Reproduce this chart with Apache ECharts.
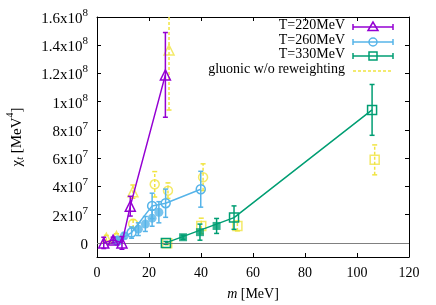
<!DOCTYPE html>
<html><head><meta charset="utf-8">
<script src="https://cdn.jsdelivr.net/npm/echarts@6/dist/echarts.min.js"></script>
<style>html,body{margin:0;padding:0;background:#fff}#c{width:436px;height:305px}</style>
</head><body><div id="c"></div>
<script>
// ---- data ----
const xTicks = [0, 20, 40, 60, 80, 100, 120];
const yTicks = [0, 2e7, 4e7, 6e7, 8e7, 1e8, 1.2e8, 1.4e8, 1.6e8];
const yTickLabels = ['0', '2x10^7', '4x10^7', '6x10^7', '8x10^7', '1x10^8', '1.2x10^8', '1.4x10^8', '1.6x10^8'];
const seriesNames = ['T=220MeV', 'T=260MeV', 'T=330MeV', 'gluonic w/o reweighting'];

// T=220MeV (open triangles, with line)
const m220 = [2.6, 6.2, 9.6, 12.8, 26.3];
const v220 = [0, 2.0e6, 0, 2.6e7, 1.19e8];
const e220 = [4e6, 2e6, 4.5e6, 7e6, 3e7];

// T=260MeV (open circles, with line)
const m260 = [7.8, 13.3, 21.2, 26.4, 39.9];
const v260 = [1.5e6, 7.3e6, 2.62e7, 2.81e7, 3.8e7];
const e260 = [2e6, 4e6, 9e6, 1.0e7, 1.27e7];
// T=260MeV additional filled circles
const m260f = [7.8, 10.5, 15.9, 18.6, 21.2, 23.8];
const v260f = [1.9e6, 5.0e6, 9.7e6, 1.34e7, 1.75e7, 2.17e7];
const e260f = [2e6, 2e6, 4.5e6, 5.3e6, 5.7e6, 7.5e6];

// T=330MeV (open squares, with line)
const m330 = [26.5, 52.7, 105.8];
const v330 = [0, 1.79e7, 9.42e7];
const e330 = [1e6, 8.3e6, 1.8e7];
// T=330MeV additional filled squares
const m330f = [33.1, 39.6, 46.0];
const v330f = [4.0e6, 7.6e6, 1.2e7];
const e330f = [1.5e6, 5.7e6, 5.3e6];

// gluonic w/o reweighting (yellow, dashed error bars)
const mGt = [3.6, 7.5, 13.8, 27.7];
const vGt = [3.3e6, 4.5e6, 3.63e7, 1.366e8];
const eGt = [2e6, 2e6, 4.7e6, 4.25e7];
const mGc = [13.9, 22.2, 27.3, 40.8];
const vGc = [1.35e7, 4.15e7, 3.7e7, 4.65e7];
const eGc = [3e6, 9e6, 5.5e6, 9.5e6];
const mGs = [27.0, 40.1, 54.0, 106.8];
const vGs = [-3e5, 1.2e7, 1.2e7, 5.88e7];
const eGs = [1e6, 5.5e6, 3.5e6, 1.06e7];

// ---- build ----
const C220 = '#9400d3', C260 = '#56b4e9', C330 = '#009e73', CG = '#f0e442';
const FONT = 'Liberation Serif';
const pts = (m, v) => m.map((x, i) => [x, v[i]]);
const errs = (m, v, e) => m.map((x, i) => [x, v[i] - e[i], v[i] + e[i]]);

function errRender(color, dashed) {
  return function (params, api) {
    const x = api.value(0), lo = api.value(1), hi = api.value(2);
    const p1 = api.coord([x, lo]), p2 = api.coord([x, hi]);
    const cw = 2.5;
    const style = { stroke: color, lineWidth: 1.5, lineDash: dashed ? [3, 2] : null, fill: null };
    return {
      type: 'group', children: [
        { type: 'line', shape: { x1: p1[0], y1: p1[1], x2: p2[0], y2: p2[1] }, style: style },
        { type: 'line', shape: { x1: p1[0] - cw, y1: p1[1], x2: p1[0] + cw, y2: p1[1] }, style: { stroke: color, lineWidth: 1.5 } },
        { type: 'line', shape: { x1: p2[0] - cw, y1: p2[1], x2: p2[0] + cw, y2: p2[1] }, style: { stroke: color, lineWidth: 1.5 } }
      ]
    };
  };
}
function errSeries(data, color, dashed, z) {
  return { type: 'custom', data: data, renderItem: errRender(color, dashed), clip: true, z: z, silent: true,
    encode: { x: 0, y: [1, 2] } };
}
function openScatter(data, symbol, size, color, z) {
  return { type: 'scatter', data: data, symbol: symbol, symbolSize: size, z: z, silent: true,
    itemStyle: { color: 'transparent', borderColor: color, borderWidth: 1.5 } };
}

const yLabelMap = {};
yTicks.forEach((t, i) => { yLabelMap[t] = yTickLabels[i]; });
function fmtY(v) {
  const s = yLabelMap[v];
  if (s === undefined) return '';
  const k = s.indexOf('^');
  if (k < 0) return '{b|' + s + '}';
  return '{b|' + s.slice(0, k) + '}{s|' + s.slice(k + 1) + '}';
}

// legend samples drawn as graphics
function legendSample(y, color, marker) {
  const x1 = 353, x2 = 393, xm = 373;
  const ch = [
    { type: 'line', shape: { x1: x1, y1: y, x2: x2, y2: y }, style: { stroke: color, lineWidth: 1.5 } },
    { type: 'line', shape: { x1: x1, y1: y - 3, x2: x1, y2: y + 3 }, style: { stroke: color, lineWidth: 1.5 } },
    { type: 'line', shape: { x1: x2, y1: y - 3, x2: x2, y2: y + 3 }, style: { stroke: color, lineWidth: 1.5 } }
  ];
  if (marker === 'tri') ch.push({ type: 'polygon', shape: { points: [[xm, y - 5], [xm - 5, y + 3.5], [xm + 5, y + 3.5]] }, style: { fill: 'none', stroke: color, lineWidth: 1.5 } });
  if (marker === 'circ') ch.push({ type: 'circle', shape: { cx: xm, cy: y, r: 4 }, style: { fill: 'none', stroke: color, lineWidth: 1.5 } });
  if (marker === 'sq') ch.push({ type: 'rect', shape: { x: xm - 4, y: y - 4, width: 8, height: 8 }, style: { fill: 'none', stroke: color, lineWidth: 1.5 } });
  return ch;
}
const legendRows = [27, 42, 56, 71];
const legendColors = [C220, C260, C330, CG];
const legendMarkers = ['tri', 'circ', 'sq', null];
const graphics = [];
seriesNames.forEach((n, i) => {
  graphics.push({ type: 'text', right: 436 - 345, top: legendRows[i] - 9, style: { text: n, font: '14px "Liberation Serif"', fill: '#000', textAlign: 'right' } });
  if (i < 3) graphics.push({ type: 'group', children: legendSample(legendRows[i], legendColors[i], legendMarkers[i]) });
  else graphics.push({ type: 'line', shape: { x1: 353, y1: legendRows[i], x2: 393, y2: legendRows[i] }, style: { stroke: CG, lineWidth: 1.5, lineDash: [3, 2] } });
});

const xAxisCommon = { type: 'value', min: 0, max: 120, interval: 20,
  axisLine: { show: true, onZero: false, lineStyle: { color: '#000', width: 1 } },
  axisTick: { show: true, inside: true, length: 4, lineStyle: { color: '#000' } },
  splitLine: { show: false } };
const yAxisCommon = { type: 'value', min: -1e7, max: 1.6e8,
  axisLine: { show: true, onZero: false, lineStyle: { color: '#000', width: 1 } },
  axisTick: { show: true, inside: true, length: 4, customValues: yTicks, lineStyle: { color: '#000' } },
  splitLine: { show: false } };

const option = {
  animation: false,
  backgroundColor: '#fff',
  grid: { left: 97, right: 27, top: 17, bottom: 48, containLabel: false, outerBoundsMode: 'none' },
  xAxis: [
    Object.assign({}, xAxisCommon, { position: 'bottom',
      axisLabel: { show: true, margin: 9, fontFamily: FONT, fontSize: 14, color: '#000' },
      name: '{i|m}{a| [MeV]}', nameLocation: 'middle', nameGap: 30,
      nameTextStyle: { rich: { i: { fontFamily: FONT, fontSize: 14, fontStyle: 'italic', color: '#000' }, a: { fontFamily: FONT, fontSize: 14, color: '#000' } } } }),
    Object.assign({}, xAxisCommon, { position: 'top', axisLabel: { show: false } })
  ],
  yAxis: [
    Object.assign({}, yAxisCommon, { position: 'left',
      axisLabel: { show: true, customValues: yTicks, margin: 9, formatter: fmtY,
        rich: { b: { fontFamily: FONT, fontSize: 15, color: '#000', lineHeight: 19, verticalAlign: 'bottom' },
                s: { fontFamily: FONT, fontSize: 11, color: '#000', lineHeight: 19, verticalAlign: 'top' } } },
      name: '{a|χ}{sub|t}{a| [MeV}{sup|4}{a|]}', nameLocation: 'middle', nameGap: 72, nameRotate: 90,
      nameTextStyle: { rich: {
        a: { fontFamily: FONT, fontSize: 15, color: '#000', lineHeight: 20, verticalAlign: 'bottom' },
        sub: { fontFamily: FONT, fontSize: 10, fontStyle: 'italic', color: '#000', lineHeight: 14, verticalAlign: 'bottom' },
        sup: { fontFamily: FONT, fontSize: 10, color: '#000', lineHeight: 20, verticalAlign: 'top' } } } }),
    Object.assign({}, yAxisCommon, { position: 'right', axisLabel: { show: false } })
  ],
  graphic: graphics,
  series: [
    // zero line
    { type: 'line', data: [], silent: true, z: 1,
      markLine: { silent: true, symbol: ['none', 'none'], label: { show: false }, animation: false,
        lineStyle: { color: '#808080', width: 1, type: 'solid' }, data: [{ yAxis: 0 }] } },
    // gluonic w/o reweighting
    errSeries(errs(mGt, vGt, eGt), CG, true, 2),
    errSeries(errs(mGc, vGc, eGc), CG, true, 2),
    errSeries(errs(mGs, vGs, eGs), CG, true, 2),
    openScatter(pts(mGt, vGt), 'triangle', 10, CG, 3),
    openScatter(pts(mGc, vGc), 'circle', 9, CG, 3),
    openScatter(pts(mGs, vGs), 'rect', 9, CG, 3),
    // T=330
    errSeries(errs(m330f, v330f, e330f), C330, false, 4),
    { type: 'scatter', data: pts(m330f, v330f), symbol: 'rect', symbolSize: 8, z: 4, silent: true, itemStyle: { color: C330 } },
    errSeries(errs(m330, v330, e330), C330, false, 4),
    { type: 'line', data: pts(m330, v330), symbol: 'rect', symbolSize: 9, showSymbol: true, z: 5, silent: true,
      lineStyle: { color: C330, width: 1.5 }, itemStyle: { color: 'transparent', borderColor: C330, borderWidth: 1.5 } },
    // T=260
    errSeries(errs(m260f, v260f, e260f), C260, false, 6),
    { type: 'scatter', data: pts(m260f, v260f), symbol: 'circle', symbolSize: 9, z: 6, silent: true, itemStyle: { color: C260 } },
    errSeries(errs(m260, v260, e260), C260, false, 6),
    { type: 'line', data: pts(m260, v260), symbol: 'circle', symbolSize: 9, showSymbol: true, z: 7, silent: true,
      lineStyle: { color: C260, width: 1.5 }, itemStyle: { color: 'transparent', borderColor: C260, borderWidth: 1.5 } },
    // T=220
    errSeries(errs(m220, v220, e220), C220, false, 8),
    { type: 'line', data: pts(m220, v220), symbol: 'triangle', symbolSize: 10, showSymbol: true, z: 9, silent: true,
      lineStyle: { color: C220, width: 1.5 }, itemStyle: { color: 'transparent', borderColor: C220, borderWidth: 1.5 } }
  ]
};
const chart = echarts.init(document.getElementById('c'), null, { renderer: 'canvas' });
chart.setOption(option);
</script></body></html>
